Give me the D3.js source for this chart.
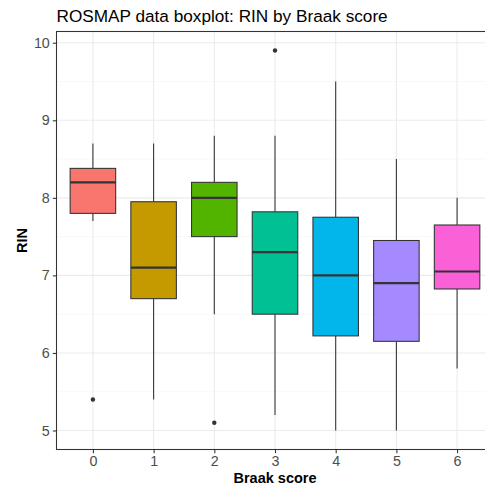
<!DOCTYPE html>
<html>
<head>
<meta charset="utf-8">
<script src="https://cdn.jsdelivr.net/npm/d3@7"></script>
<style>
  html, body { margin: 0; padding: 0; background: #fff; }
  svg { display: block; font-family: "Liberation Sans", Arial, Helvetica, sans-serif; }
</style>
</head>
<body>
<svg id="chart" width="485" height="490"></svg>
<script>
// Braak score groups and their RIN box summaries
const categories = ["0", "1", "2", "3", "4", "5", "6"];
const whiskerLow = [7.7, 5.4, 6.5, 5.2, 5.0, 5.0, 5.8];
const q1 = [7.8, 6.7, 7.5, 6.5, 6.22, 6.15, 6.825];
const median = [8.2, 7.1, 8.0, 7.3, 7.0, 6.9, 7.05];
const q3 = [8.38, 7.95, 8.2, 7.82, 7.75, 7.45, 7.65];
const whiskerHigh = [8.7, 8.7, 8.8, 8.8, 9.5, 8.5, 8.0];
const outliers = [[5.4], [], [5.1], [9.9], [], [], []];
const fills = ["#F8766D", "#C49A00", "#53B400", "#00C094", "#00B6EB", "#A58AFF", "#FB61D7"];
const yTicks = [5, 6, 7, 8, 9, 10];
const yMinor = [4.5, 5.5, 6.5, 7.5, 8.5, 9.5, 10.5];

const svg = d3.select("#chart");
const panel = { left: 56.5, top: 31.5, right: 493.5, bottom: 449.5 };

const x = d3.scaleLinear().domain([-0.6, categories.length - 0.4]).range([panel.left, panel.right]);
const step = x(1) - x(0);
const y = d3.scaleLinear().domain([4.755, 10.145]).range([panel.bottom, panel.top]);

const g = svg.append("g");

// panel background
g.append("rect")
  .attr("x", panel.left).attr("y", panel.top)
  .attr("width", panel.right - panel.left).attr("height", panel.bottom - panel.top)
  .attr("fill", "#fff");

// minor grid
g.selectAll(".minor").data(yMinor.filter(v => y(v) > panel.top && y(v) < panel.bottom)).join("line")
  .attr("x1", panel.left).attr("x2", panel.right)
  .attr("y1", d => y(d)).attr("y2", d => y(d))
  .attr("stroke", "#F2F2F2").attr("stroke-width", 0.55);

// major grid
g.selectAll(".hmajor").data(yTicks).join("line")
  .attr("x1", panel.left).attr("x2", panel.right)
  .attr("y1", d => y(d)).attr("y2", d => y(d))
  .attr("stroke", "#EBEBEB").attr("stroke-width", 1.07);
g.selectAll(".vmajor").data(categories).join("line")
  .attr("x1", (d, i) => x(i)).attr("x2", (d, i) => x(i))
  .attr("y1", panel.top).attr("y2", panel.bottom)
  .attr("stroke", "#EBEBEB").attr("stroke-width", 1.07);

// boxes
const boxW = step * 0.75;
const stats = categories.map((c, i) => ({
  i, lo: whiskerLow[i], q1: q1[i], med: median[i], q3: q3[i], hi: whiskerHigh[i], out: outliers[i], fill: fills[i]
}));

const box = g.selectAll(".box").data(stats).join("g");
box.append("line")
  .attr("x1", d => x(d.i)).attr("x2", d => x(d.i))
  .attr("y1", d => y(d.hi)).attr("y2", d => y(d.q3))
  .attr("stroke", "#333333").attr("stroke-width", 1.07);
box.append("line")
  .attr("x1", d => x(d.i)).attr("x2", d => x(d.i))
  .attr("y1", d => y(d.q1)).attr("y2", d => y(d.lo))
  .attr("stroke", "#333333").attr("stroke-width", 1.07);
box.append("rect")
  .attr("x", d => x(d.i) - boxW / 2).attr("width", boxW)
  .attr("y", d => y(d.q3)).attr("height", d => y(d.q1) - y(d.q3))
  .attr("fill", d => d.fill)
  .attr("stroke", "#333333").attr("stroke-width", 1.07);
box.append("line")
  .attr("x1", d => x(d.i) - boxW / 2).attr("x2", d => x(d.i) + boxW / 2)
  .attr("y1", d => y(d.med)).attr("y2", d => y(d.med))
  .attr("stroke", "#333333").attr("stroke-width", 2.13);
box.selectAll("circle").data(d => d.out.map(v => ({ i: d.i, v }))).join("circle")
  .attr("cx", d => x(d.i)).attr("cy", d => y(d.v)).attr("r", 2.2)
  .attr("fill", "#333333");

// panel border
g.append("rect")
  .attr("x", panel.left).attr("y", panel.top)
  .attr("width", panel.right - panel.left).attr("height", panel.bottom - panel.top)
  .attr("fill", "none").attr("stroke", "#333333").attr("stroke-width", 1.07);

// y axis
const yAxis = g.append("g").attr("transform", `translate(${panel.left},0)`)
  .call(d3.axisLeft(y).tickValues(yTicks).tickSize(3.7).tickPadding(3).tickFormat(d3.format("d")));
yAxis.select(".domain").remove();
yAxis.selectAll(".tick line").attr("stroke", "#333333").attr("stroke-width", 1.07);
yAxis.selectAll(".tick text").attr("fill", "#4D4D4D").attr("font-size", "14.3px")
  .attr("font-family", "Liberation Sans, Arial, sans-serif");

// x axis
const xAxis = g.append("g").attr("transform", `translate(0,${panel.bottom})`)
  .call(d3.axisBottom(x).tickValues(d3.range(categories.length)).tickSize(3.7).tickPadding(3)
    .tickFormat(i => categories[i]));
xAxis.select(".domain").remove();
xAxis.selectAll(".tick line").attr("stroke", "#333333").attr("stroke-width", 1.07);
xAxis.selectAll(".tick text").attr("fill", "#4D4D4D").attr("font-size", "14.3px")
  .attr("font-family", "Liberation Sans, Arial, sans-serif");

// axis titles
svg.append("text")
  .attr("x", (panel.left + panel.right) / 2).attr("y", 482.5)
  .attr("text-anchor", "middle").attr("font-size", "14.5px").attr("font-weight", "bold")
  .attr("fill", "#000").text("Braak score");
svg.append("text")
  .attr("transform", `translate(27,${(panel.top + panel.bottom) / 2}) rotate(-90)`)
  .attr("text-anchor", "middle").attr("font-size", "14.5px").attr("font-weight", "bold")
  .attr("fill", "#000").text("RIN");

// title
svg.append("text")
  .attr("x", panel.left).attr("y", 22)
  .attr("font-size", "17.2px").attr("fill", "#000")
  .text("ROSMAP data boxplot: RIN by Braak score");
</script>
</body>
</html>
